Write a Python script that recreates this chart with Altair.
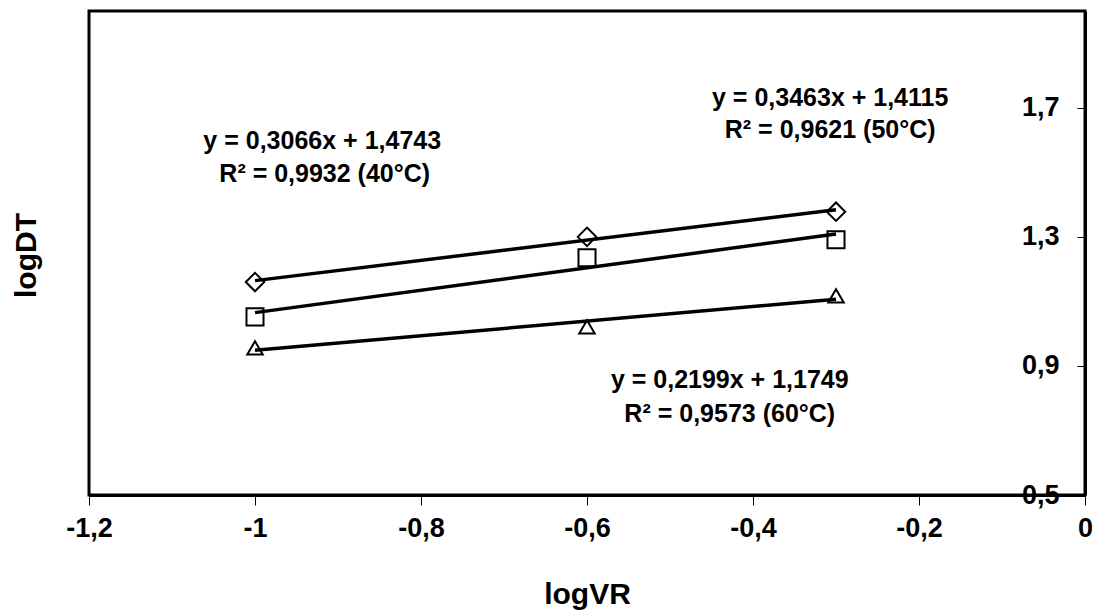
import altair as alt
import pandas as pd

# ---- data ----
series = ["40°C", "50°C", "60°C"]
log_vr = [-1.0, -0.6, -0.3]
log_dt_40 = [1.160, 1.300, 1.378]
log_dt_50 = [1.052, 1.235, 1.291]
log_dt_60 = [0.956, 1.021, 1.117]
marker_shapes = ["diamond", "square", "triangle-up"]
marker_sizes = [340, 240, 330]

x_ticks = [-1.2, -1.0, -0.8, -0.6, -0.4, -0.2, 0.0]
y_ticks = [0.5, 0.9, 1.3, 1.7]

eq_text = [
    "y = 0,3066x + 1,4743", "R² = 0,9932 (40°C)",
    "y = 0,3463x + 1,4115", "R² = 0,9621 (50°C)",
    "y = 0,2199x + 1,1749", "R² = 0,9573 (60°C)",
]
eq_x = [-0.919, -0.916, -0.307, -0.307, -0.428, -0.428]
eq_y = [1.598, 1.495, 1.731, 1.632, 0.857, 0.751]

# ---- tables ----
rows = []
for s, vals in zip(series, [log_dt_40, log_dt_50, log_dt_60]):
    for xv, yv in zip(log_vr, vals):
        rows.append({"series": s, "x": xv, "y": yv})
df = pd.DataFrame(rows)
ann = pd.DataFrame({"text": eq_text, "x": eq_x, "y": eq_y})

W, H = 996, 484
FONT = "Liberation Sans"

xscale = alt.Scale(domain=[-1.2, 0], nice=False, zero=False)
yscale = alt.Scale(domain=[0.5, 2.0], nice=False, zero=False)
label_expr = "replace(toString(datum.value), '.', ',')"

x_axis = alt.Axis(
    values=x_ticks, labelExpr=label_expr, grid=False,
    domainColor="black", domainWidth=3, tickColor="black", tickWidth=1,
    tickSize=10, labelFont=FONT, labelFontSize=27, labelFontWeight="bold",
    labelColor="black", labelPadding=10, labelFlush=False,
    title="logVR", titleFont=FONT, titleFontSize=30, titleFontWeight="bold",
    titleColor="black", titlePadding=38,
)
y_axis = alt.Axis(
    orient="left", offset=-W, values=y_ticks, labelExpr=label_expr, grid=False,
    domainColor="black", domainWidth=3, tickColor="black", tickWidth=1,
    tickSize=8, labelFont=FONT, labelFontSize=27, labelFontWeight="bold",
    labelColor="black", labelPadding=18, labelFlush=False, labelOverlap=False,
    title="logDT", titleFont=FONT, titleFontSize=30, titleFontWeight="bold",
    titleColor="black", titleX=-63 - W, titleY=244, titleBaseline="middle",
    titleAngle=-90,
)

points = alt.Chart(df).mark_point(
    fill="white", stroke="black", strokeWidth=2, opacity=1, filled=False
).encode(
    x=alt.X("x:Q", scale=xscale, axis=x_axis),
    y=alt.Y("y:Q", scale=yscale, axis=y_axis),
    shape=alt.Shape("series:N", scale=alt.Scale(domain=series, range=marker_shapes), legend=None),
    size=alt.Size("series:N", scale=alt.Scale(domain=series, range=marker_sizes), legend=None),
)

lines = alt.Chart(df).transform_regression(
    "x", "y", groupby=["series"], extent=[-1.0, -0.3]
).mark_line(color="black", strokeWidth=3.5).encode(
    x=alt.X("x:Q", scale=xscale),
    y=alt.Y("y:Q", scale=yscale),
    detail="series:N",
)

texts = alt.Chart(ann).mark_text(
    font=FONT, fontSize=25, fontWeight="bold", color="black",
    align="center", baseline="middle",
).encode(
    x=alt.X("x:Q", scale=xscale),
    y=alt.Y("y:Q", scale=yscale),
    text="text:N",
)

chart = alt.layer(points, lines, texts).properties(
    width=W, height=H,
    autosize=alt.AutoSizeParams(type="none"),
    padding={"left": 89, "top": 11, "right": 11, "bottom": 118},
    background="white",
).configure_view(stroke="black", strokeWidth=3)

chart.save("out.html", embed_options={"renderer": "svg", "actions": False})
